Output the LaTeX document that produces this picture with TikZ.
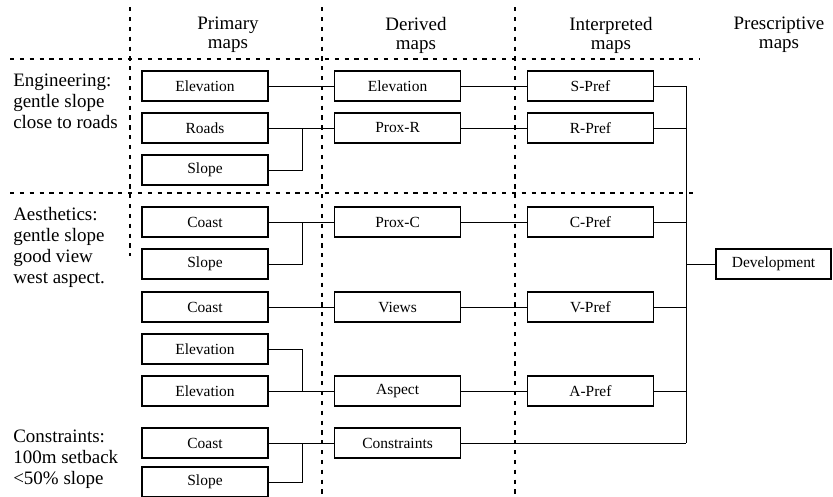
\documentclass[tikz,border=0pt]{standalone}
\usepackage{fontspec}
\setmainfont{Liberation Serif}
\begin{document}
\begin{tikzpicture}[
        mapbox/.style={draw, line width=1.2pt, minimum width=3.15cm, minimum height=0.75cm, inner sep=1pt, font=\fontsize{11}{13}\selectfont},
        head/.style={align=center, font=\fontsize{13.5}{13.5}\selectfont},
        crit/.style={align=left, anchor=west, inner sep=0pt, font=\fontsize{13.5}{15}\selectfont},
        sep/.style={line width=0.9pt, dash pattern=on 3pt off 4pt},
        link/.style={line width=0.7pt}
    ]
        \useasboundingbox (0,0) rectangle (20.825,-12.425);

        % dotted frame
        \draw[sep] (3.25,-0.18) -- (3.25,-6.4);
        \draw[sep] (8.05,-0.18) -- (8.05,-12.425);
        \draw[sep] (12.875,-0.18) -- (12.875,-12.425);
        \draw[sep] (0.25,-1.475) -- (17.5,-1.475);
        \draw[sep] (0.25,-4.825) -- (17.45,-4.825);

        % headers and criteria
        \node[head] (hprim) at (5.7,-0.875) {Primary\\maps};
        \node[head] (hder) at (10.4,-0.875) {Derived\\maps};
        \node[head] (hint) at (15.275,-0.875) {Interpreted\\maps};
        \node[head] (hpres) at (19.475,-0.875) {Prescriptive\\maps};
        \node[crit] (engin) at (0.325,-2.525) {Engineering:\\gentle slope\\close to roads};
        \node[crit] (aesth) at (0.325,-6.19) {Aesthetics:\\gentle slope\\good view\\west aspect.};
        \node[crit] (cons) at (0.325,-11.49) {Constraints:\\100m setback\\<50\% slope};

        % primary maps
        \node[mapbox] (elevA) at (5.125,-2.15) {Elevation};
        \node[mapbox] (roads) at (5.125,-3.2) {Roads};
        \node[mapbox] (slopeA) at (5.125,-4.25) {Slope};
        \node[mapbox] (coastB) at (5.125,-5.55) {Coast};
        \node[mapbox] (slopeB) at (5.125,-6.6) {Slope};
        \node[mapbox] (coastC) at (5.125,-7.675) {Coast};
        \node[mapbox] (elevD) at (5.125,-8.725) {Elevation};
        \node[mapbox] (elevE) at (5.125,-9.775) {Elevation};
        \node[mapbox] (coastF) at (5.125,-11.075) {Coast};
        \node[mapbox] (slopeF) at (5.125,-12.05) {Slope};

        % derived maps
        \node[mapbox] (elev) at (9.94,-2.15) {Elevation};
        \node[mapbox] (proxR) at (9.94,-3.2) {Prox-R};
        \node[mapbox] (proxC) at (9.94,-5.55) {Prox-C};
        \node[mapbox] (views) at (9.94,-7.675) {Views};
        \node[mapbox] (aspect) at (9.94,-9.775) {Aspect};
        \node[mapbox] (constr) at (9.94,-11.075) {Constraints};

        % interpreted and prescriptive maps
        \node[mapbox] (sPref) at (14.76,-2.15) {S-Pref};
        \node[mapbox] (rPref) at (14.76,-3.2) {R-Pref};
        \node[mapbox] (cPref) at (14.76,-5.55) {C-Pref};
        \node[mapbox] (vPref) at (14.76,-7.675) {V-Pref};
        \node[mapbox] (aPref) at (14.76,-9.775) {A-Pref};
        \node[mapbox, minimum width=2.875cm] (dev) at (19.34,-6.6) {Development};

        \coordinate (junc) at (7.55,0);
        \coordinate (bus) at (17.15,0);

        \draw[link] (elevA) -- (elev);
        \draw[link] (roads) -- (proxR);
        \draw[link] (slopeA) -| (junc |- roads);
        \draw[link] (coastB) -- (proxC);
        \draw[link] (slopeB) -| (junc |- coastB);
        \draw[link] (coastC) -- (views);
        \draw[link] (elevD) -| (junc |- elevE);
        \draw[link] (elevE) -- (aspect);
        \draw[link] (coastF) -- (constr);
        \draw[link] (slopeF) -| (junc |- coastF);

        \draw[link] (elev) -- (sPref);
        \draw[link] (proxR) -- (rPref);
        \draw[link] (proxC) -- (cPref);
        \draw[link] (views) -- (vPref);
        \draw[link] (aspect) -- (aPref);

        \foreach \m in {sPref,rPref,cPref,vPref,aPref,constr}
            \draw[link] (\m) -- (\m -| bus);
        \draw[link] (bus |- sPref) -- (bus |- constr);
        \draw[link] (dev) -- (dev -| bus);
    \end{tikzpicture}
\end{document}
